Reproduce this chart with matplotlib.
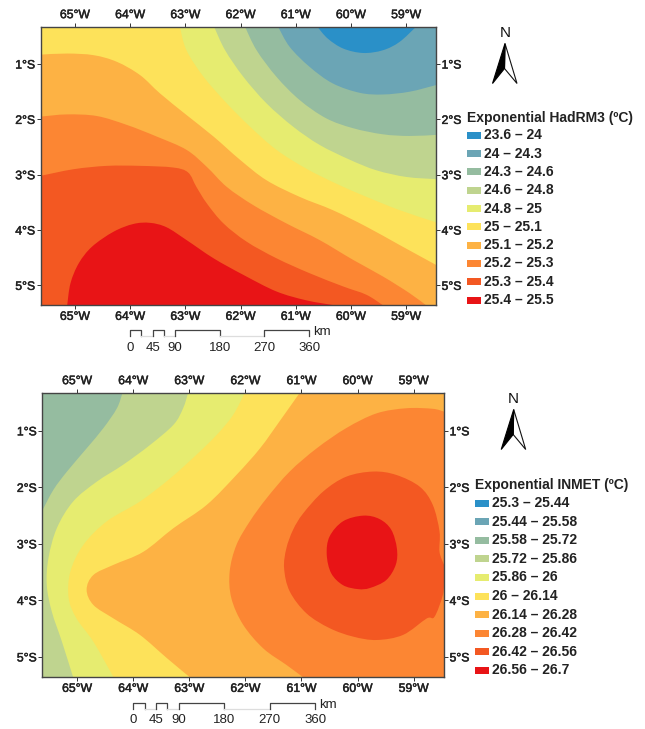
import matplotlib
matplotlib.use('Agg')
import matplotlib.pyplot as plt
import matplotlib.patheffects as pe
from matplotlib.path import Path
from matplotlib.patches import PathPatch, Polygon, Rectangle

plt.rcParams['font.family'] = ['Liberation Sans', 'DejaVu Sans']

class_colors = ['#2A90C8', '#6BA5B5', '#95BCA0', '#BFD48F', '#E6EC70',
                '#FDE25A', '#FDB244', '#FC8633', '#F35822', '#E81416']

lon_ticks = [-65, -64, -63, -62, -61, -60, -59]
lon_labels = ['65°W', '64°W', '63°W', '62°W', '61°W', '60°W', '59°W']
lat_ticks = [-1, -2, -3, -4, -5]
lat_labels = ['1°S', '2°S', '3°S', '4°S', '5°S']

W, E = -65.62, -58.46
S, N = -5.36, -0.325

scale_km = [0, 45, 90, 180, 270, 360]
# km breaks of the scale bar, dark and light pieces alternate
scale_breaks = [0, 22.5, 45, 67.5, 90, 180, 270, 360]

hadrm3_labels = ['23.6 – 24', '24 – 24.3', '24.3 – 24.6', '24.6 – 24.8', '24.8 – 25',
                 '25 – 25.1', '25.1 – 25.2', '25.2 – 25.3', '25.3 – 25.4', '25.4 – 25.5']
inmet_labels = ['25.3 – 25.44', '25.44 – 25.58', '25.58 – 25.72', '25.72 – 25.86', '25.86 – 26',
                '26 – 26.14', '26.14 – 26.28', '26.28 – 26.42', '26.42 – 26.56', '26.56 – 26.7']

# contour lines (lon, lat)
had_c1 = [(-60.61, N), (-60.42, -0.54), (-60.14, -0.72), (-59.78, -0.80), (-59.42, -0.75), (-59.12, -0.60), (-58.82, N)]
had_c2 = [(-61.32, N), (-61.11, -0.69), (-60.75, -1.05), (-60.33, -1.35), (-59.84, -1.52), (-59.42, -1.55), (-58.94, -1.50), (E, -1.38)]
had_c3 = [(-61.92, N), (-61.71, -0.75), (-61.35, -1.23), (-60.93, -1.65), (-60.45, -1.98), (-59.96, -2.16), (-59.42, -2.27), (-58.94, -2.30), (E, -2.28)]
had_c4 = [(-62.48, N), (-62.28, -0.75), (-61.95, -1.23), (-61.53, -1.71), (-61.05, -2.13), (-60.57, -2.46), (-60.02, -2.73), (-59.54, -2.92), (-59.00, -3.04), (E, -3.08)]
had_c5 = [(-63.10, N), (-62.98, -0.75), (-62.67, -1.23), (-62.25, -1.71), (-61.83, -2.13), (-61.35, -2.55), (-60.81, -2.89), (-60.27, -3.16), (-59.72, -3.40), (-59.12, -3.64), (E, -3.86)]
had_c6 = [(W, -0.83), (-65.14, -0.81), (-64.66, -0.84), (-64.24, -0.96), (-63.82, -1.20), (-63.46, -1.53), (-62.98, -1.92), (-62.49, -2.31), (-62.01, -2.73), (-61.53, -3.10), (-60.93, -3.40), (-60.33, -3.64), (-59.72, -3.94), (-59.12, -4.27), (E, -4.63)]
had_c7 = [(W, -1.95), (-65.14, -1.91), (-64.60, -1.94), (-64.06, -2.10), (-63.52, -2.31), (-62.98, -2.55), (-62.61, -2.86), (-62.25, -3.22), (-61.77, -3.55), (-61.17, -3.88), (-60.57, -4.18), (-59.96, -4.54), (-59.42, -4.84), (-58.94, -5.14), (-58.64, S)]
had_c8 = [(W, -3.02), (-65.02, -2.90), (-64.42, -2.84), (-63.82, -2.84), (-63.22, -2.87), (-62.95, -2.96), (-62.80, -3.22), (-62.61, -3.52), (-62.31, -3.88), (-61.89, -4.21), (-61.35, -4.51), (-60.75, -4.78), (-60.14, -5.02), (-59.72, -5.17), (-59.42, S)]
had_c9 = [(-65.14, S), (-65.08, -4.96), (-64.93, -4.60), (-64.69, -4.30), (-64.30, -4.03), (-63.94, -3.89), (-63.64, -3.87), (-63.34, -3.95), (-62.98, -4.18), (-62.49, -4.51), (-61.95, -4.81), (-61.35, -5.11), (-60.81, -5.27), (-60.30, S)]

inm_c1 = [(-64.19, N), (-64.29, -0.60), (-64.53, -0.95), (-64.83, -1.31), (-65.18, -1.72), (-65.42, -2.04), (W, -2.41)]
inm_c2 = [(-63.02, N), (-63.11, -0.60), (-63.28, -0.89), (-63.70, -1.25), (-64.18, -1.60), (-64.65, -1.90), (-65.07, -2.25), (-65.36, -2.72), (-65.51, -3.25), (-65.54, -3.73), (-65.45, -4.20), (-65.27, -4.73), (-65.07, S)]
inm_c3 = [(-62.01, N), (-62.22, -0.72), (-62.51, -1.07), (-62.87, -1.42), (-63.34, -1.84), (-63.88, -2.25), (-64.47, -2.60), (-64.89, -3.02), (-65.12, -3.49), (-65.15, -3.96), (-65.01, -4.32), (-64.71, -4.73), (-64.35, S)]
inm_c4 = [(-61.03, N), (-61.39, -0.83), (-61.74, -1.31), (-62.16, -1.78), (-62.69, -2.31), (-63.28, -2.72), (-63.82, -3.14), (-64.35, -3.37), (-64.71, -3.55), (-64.83, -3.81), (-64.71, -4.08), (-64.35, -4.32), (-63.88, -4.61), (-63.40, -5.02), (-62.99, S)]
inm_c5 = [(E, -0.66), (-58.66, -0.61), (-59.13, -0.60), (-59.66, -0.69), (-60.20, -0.95), (-60.73, -1.31), (-61.21, -1.72), (-61.62, -2.19), (-61.92, -2.60), (-62.16, -3.02), (-62.28, -3.49), (-62.25, -3.96), (-62.04, -4.43), (-61.68, -4.85), (-61.27, -5.14), (-60.97, S)]
inm_c6 = [(E, -3.37), (-58.54, -3.14), (-58.54, -2.78), (-58.66, -2.31), (-58.89, -1.99), (-59.31, -1.78), (-59.72, -1.72), (-60.20, -1.81), (-60.61, -2.07), (-60.97, -2.46), (-61.15, -2.75), (-61.27, -3.08), (-61.31, -3.43), (-61.21, -3.84), (-60.91, -4.23), (-60.50, -4.49), (-60.08, -4.64), (-59.66, -4.70), (-59.19, -4.61), (-58.77, -4.32), (-58.63, -4.29), (-58.48, -3.90), (E, -3.61)]
inm_c7 = [(-59.90, -2.50), (-59.61, -2.56), (-59.40, -2.75), (-59.30, -3.08), (-59.32, -3.37), (-59.49, -3.64), (-59.78, -3.78), (-59.99, -3.80), (-60.26, -3.73), (-60.47, -3.52), (-60.55, -3.19), (-60.50, -2.87), (-60.26, -2.60)]


def fill_contour(ax, line, corners, color, closed=False):
    # cubic bezier through the read points, so the edge stays smooth
    n = len(line)
    verts = [line[0]]
    codes = [Path.MOVETO]
    for i in range(n if closed else n - 1):
        if closed:
            p0, p1, p2, p3 = line[i - 1], line[i], line[(i + 1) % n], line[(i + 2) % n]
        else:
            p0, p1, p2, p3 = line[max(i - 1, 0)], line[i], line[i + 1], line[min(i + 2, n - 1)]
        c1 = (p1[0] + (p2[0] - p0[0]) / 6, p1[1] + (p2[1] - p0[1]) / 6)
        c2 = (p2[0] - (p3[0] - p1[0]) / 6, p2[1] - (p3[1] - p1[1]) / 6)
        verts += [c1, c2, p2]
        codes += [Path.CURVE4, Path.CURVE4, Path.CURVE4]
    for c in corners:
        verts.append(c)
        codes.append(Path.LINETO)
    verts.append(verts[0])
    codes.append(Path.CLOSEPOLY)
    ax.add_patch(PathPatch(Path(verts, codes), facecolor=color, edgecolor='none', lw=0))


def make_map(box):
    left, top, right, bottom = box
    ax = fig.add_axes([left / 645, 1 - bottom / 729, (right - left) / 645, (bottom - top) / 729])
    ax.set_xlim(W, E)
    ax.set_ylim(S, N)
    ax.set_xticks(lon_ticks, lon_labels)
    ax.set_yticks(lat_ticks, lat_labels)
    ax.tick_params(top=True, right=True, labeltop=True, labelright=True, length=3,
                   width=0.7, pad=1, labelsize=8.8, color='#333333', labelcolor='#222222')
    # the labels in the reference are a little heavier than regular
    for label in ax.get_xticklabels() + ax.get_yticklabels():
        label.set_path_effects([pe.withStroke(linewidth=0.35, foreground='#222222')])
    for spine in ax.spines.values():
        spine.set_linewidth(1.0)
        spine.set_color('#444444')
    return ax


def draw_legend(title, labels, x, y, dy):
    over.text(x, y - dy + 0.5, title, fontsize=10, fontweight='bold', va='center', color='#222222')
    for i, label in enumerate(labels):
        yc = y + i * dy
        over.add_patch(Rectangle((x, yc - 3.5), 14, 7, facecolor=class_colors[i], edgecolor='none'))
        over.text(x + 17, yc, label, fontsize=10, fontweight='bold', va='center', color='#222222')


def draw_north(x, y):
    over.text(x, y, 'N', fontsize=11, ha='center', va='center', color='#111111')
    tip = (x, y + 11)
    left = (x - 12.5, y + 51)
    right = (x + 12, y + 51)
    notch = (x - 0.5, y + 36)
    over.add_patch(Polygon([tip, right, notch], facecolor='white', edgecolor='#111111', lw=0.8))
    over.add_patch(Polygon([tip, left, notch], facecolor='black', edgecolor='black', lw=0.8))


def draw_scale(x0, px_km, y, y_text, x_km):
    for i in range(len(scale_breaks) - 1):
        a = x0 + scale_breaks[i] * px_km
        b = x0 + scale_breaks[i + 1] * px_km
        if i % 2 == 0:
            over.plot([a, a, b, b], [y + 6, y, y, y + 6], color='#444444', lw=0.9)
        else:
            over.plot([a, b], [y + 6, y + 6], color='#dddddd', lw=0.9)
    for km in scale_km:
        over.text(x0 + km * px_km, y_text, str(km), fontsize=9.5, ha='center', va='center', color='#222222')
    over.text(x_km, y + 2, 'km', fontsize=9.5, ha='left', va='center', color='#222222')


fig = plt.figure(figsize=(6.45, 7.29), dpi=100)

ax1 = make_map((40.7, 26.7, 436, 305.3))
ax1.set_facecolor(class_colors[1])
fill_contour(ax1, had_c1, [], class_colors[0])
fill_contour(ax1, had_c2, [(E, S), (W, S), (W, N)], class_colors[2])
fill_contour(ax1, had_c3, [(E, S), (W, S), (W, N)], class_colors[3])
fill_contour(ax1, had_c4, [(E, S), (W, S), (W, N)], class_colors[4])
fill_contour(ax1, had_c5, [(E, S), (W, S), (W, N)], class_colors[5])
fill_contour(ax1, had_c6, [(E, S), (W, S)], class_colors[6])
fill_contour(ax1, had_c7, [(W, S)], class_colors[7])
fill_contour(ax1, had_c8, [(W, S)], class_colors[8])
fill_contour(ax1, had_c9, [], class_colors[9])

ax2 = make_map((42.3, 392.7, 444, 677.3))
ax2.set_facecolor(class_colors[2])
fill_contour(ax2, inm_c1, [(W, S), (E, S), (E, N)], class_colors[3])
fill_contour(ax2, inm_c2, [(E, S), (E, N)], class_colors[4])
fill_contour(ax2, inm_c3, [(E, S), (E, N)], class_colors[5])
fill_contour(ax2, inm_c4, [(E, S), (E, N)], class_colors[6])
fill_contour(ax2, inm_c5, [(E, S)], class_colors[7])
fill_contour(ax2, inm_c6, [], class_colors[8])
fill_contour(ax2, inm_c7, [], class_colors[9], closed=True)

# overlay in pixel coordinates for legend, north arrow and scale bar
over = fig.add_axes([0, 0, 1, 1], facecolor='none')
over.set_xlim(0, 645)
over.set_ylim(729, 0)
over.axis('off')

draw_legend('Exponential HadRM3 (ºC)', hadrm3_labels, 466.7, 135.3, 18.3)
draw_legend('Exponential INMET (ºC)', inmet_labels, 475, 503, 18.6)
draw_north(505, 32.5)
draw_north(513.7, 398.5)
draw_scale(130.3, 0.4966, 330, 347.7, 313)
draw_scale(133.3, 0.5055, 702.7, 720, 319)

fig.savefig('out.png', dpi=100)
